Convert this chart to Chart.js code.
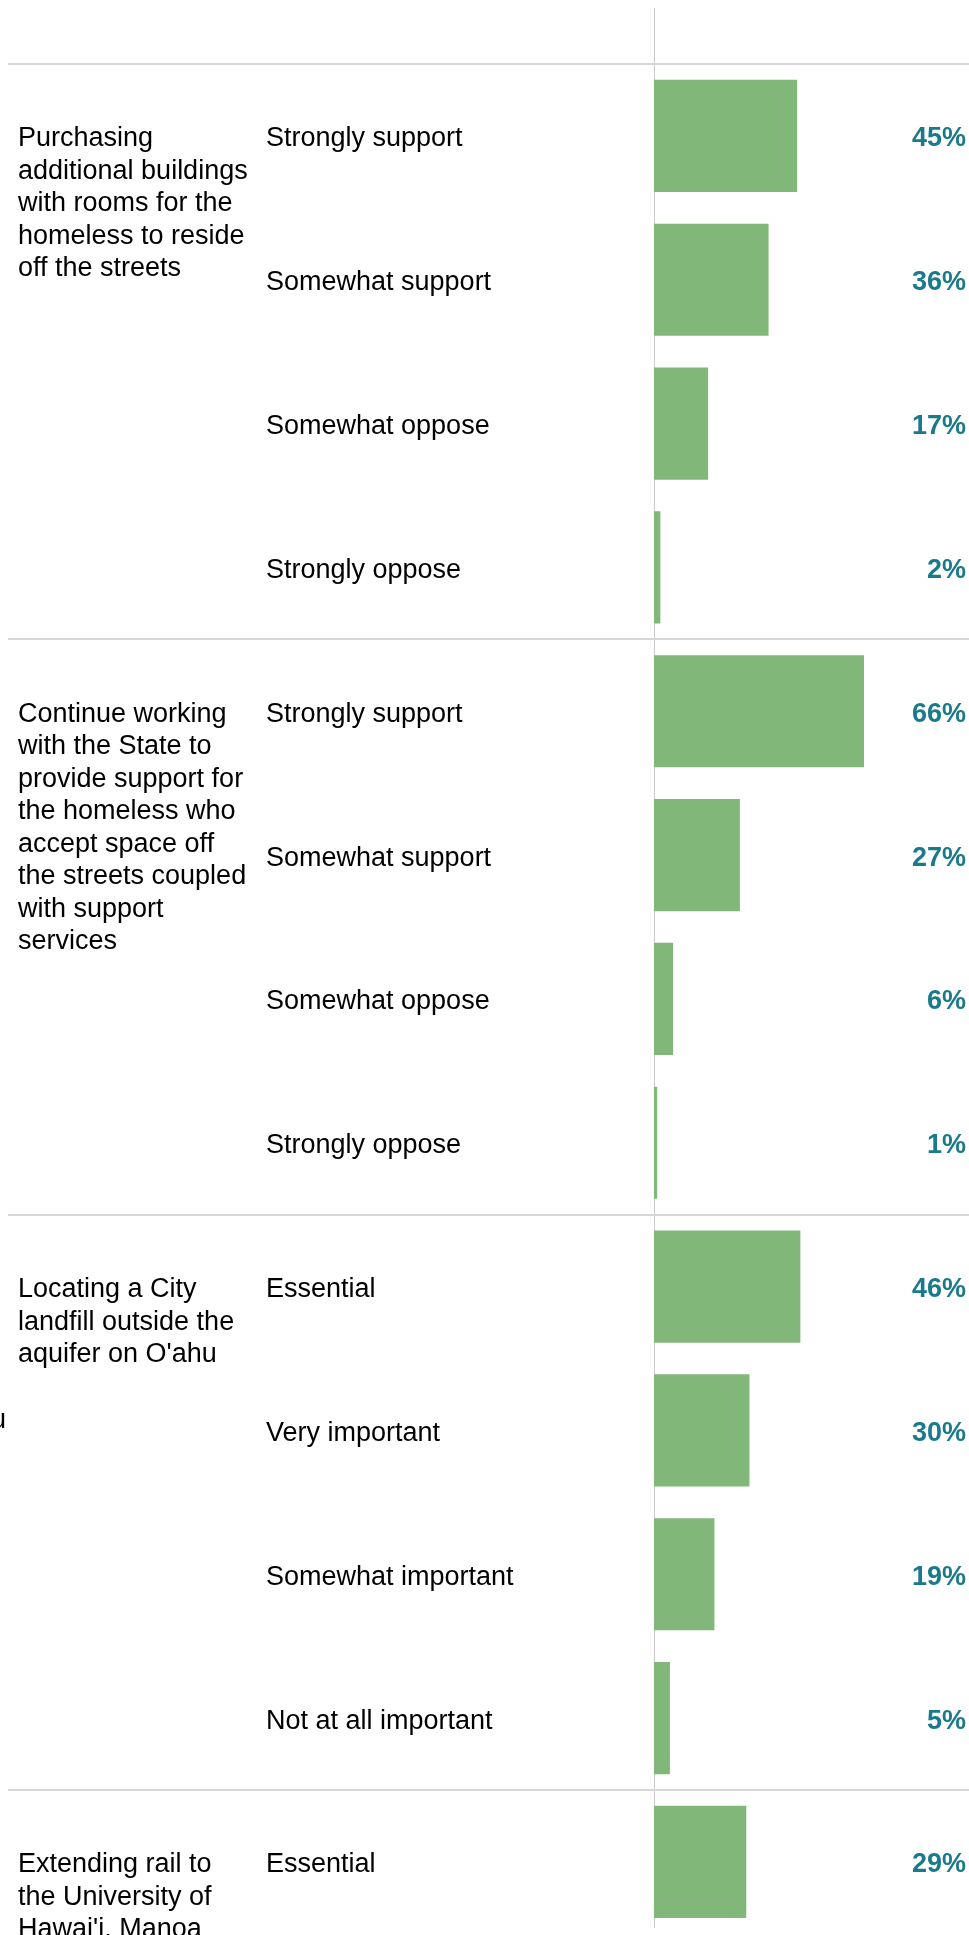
<!DOCTYPE html>
<html>
<head>
<meta charset="utf-8">
<script src="https://cdn.jsdelivr.net/npm/chart.js@4"></script>
<style>
    html, body { margin: 0; padding: 0; background: #fff; overflow: hidden; }
    #chart { display: block; }
</style>
</head>
<body>
<!-- taller than the window: the view is cut off part way into the last item -->
<canvas id="chart" width="969" height="1953"></canvas>
<script>
// Survey items, each with its answer rows
const groupLabels = [
    ['Purchasing', 'additional buildings', 'with rooms for the', 'homeless to reside', 'off the streets'],
    ['Continue working', 'with the State to', 'provide support for', 'the homeless who', 'accept space off', 'the streets coupled', 'with support', 'services'],
    ['Locating a City', 'landfill outside the', "aquifer on O'ahu"],
    ['Extending rail to', 'the University of', "Hawai'i, Manoa"]
];
const groupSizes = [4, 4, 4, 1];

const answerLabels = [
    'Strongly support', 'Somewhat support', 'Somewhat oppose', 'Strongly oppose',
    'Strongly support', 'Somewhat support', 'Somewhat oppose', 'Strongly oppose',
    'Essential', 'Very important', 'Somewhat important', 'Not at all important',
    'Essential'
];
const percentValues = [
    45, 36, 17, 2,
    66, 27, 6, 1,
    46, 30, 19, 5,
    29
];

const FONT = '"Liberation Sans", Arial, Helvetica, sans-serif';
const BAR_COLOR = '#82b77a';
const VALUE_COLOR = '#1a7a8b';
const TEXT_SHIFT = 3; // text sits a little below the row centre

// separators, axis line, item labels and the value column
const tablePlugin = {
    id: 'tableDecor',
    beforeDatasetsDraw(chart) {
        const ctx = chart.ctx;
        const y = chart.scales.y;
        const area = chart.chartArea;
        const half = (y.getPixelForValue(1) - y.getPixelForValue(0)) / 2;

        ctx.save();
        // vertical zero line
        ctx.strokeStyle = '#c8c8c8';
        ctx.lineWidth = 1;
        ctx.beginPath();
        ctx.moveTo(area.left + 0.5, 8);
        ctx.lineTo(area.left + 0.5, 1928);
        ctx.stroke();

        // horizontal lines between items
        ctx.strokeStyle = '#d6d6d6';
        ctx.lineWidth = 2;
        let start = 0;
        groupSizes.forEach(size => {
            const lineY = Math.round(y.getPixelForValue(start) - half);
            ctx.beginPath();
            ctx.moveTo(8, lineY);
            ctx.lineTo(chart.width, lineY);
            ctx.stroke();
            start += size;
        });
        ctx.restore();
    },
    afterDatasetsDraw(chart) {
        const ctx = chart.ctx;
        const y = chart.scales.y;
        ctx.save();

        // item text, first line level with the first answer
        ctx.font = '27px ' + FONT;
        ctx.fillStyle = '#000';
        ctx.textAlign = 'left';
        ctx.textBaseline = 'middle';
        let start = 0;
        groupLabels.forEach((lines, g) => {
            const top = y.getPixelForValue(start) + TEXT_SHIFT;
            lines.forEach((line, i) => {
                ctx.fillText(line, 18, top + i * 32.5);
            });
            start += groupSizes[g];
        });

        // clipped leftover glyph at the left edge
        ctx.textBaseline = 'alphabetic';
        ctx.fillText('u', -9, 1428);

        // percentages at the right
        ctx.font = 'bold 27px ' + FONT;
        ctx.fillStyle = VALUE_COLOR;
        ctx.textAlign = 'right';
        ctx.textBaseline = 'middle';
        const meta = chart.getDatasetMeta(0);
        meta.data.forEach((bar, i) => {
            ctx.fillText(percentValues[i] + '%', 966, bar.y + TEXT_SHIFT);
        });
        ctx.restore();
    }
};

const ctx = document.getElementById('chart').getContext('2d');
new Chart(ctx, {
    type: 'bar',
    data: {
        labels: answerLabels,
        datasets: [{
            data: percentValues,
            backgroundColor: BAR_COLOR,
            borderWidth: 0,
            categoryPercentage: 1,
            barPercentage: 0.78
        }]
    },
    options: {
        indexAxis: 'y',
        responsive: false,
        animation: false,
        events: [],
        layout: {
            padding: { left: 266, top: 64, right: 0, bottom: 0 }
        },
        plugins: {
            legend: { display: false },
            tooltip: { enabled: false }
        },
        scales: {
            x: {
                display: false,
                min: 0,
                max: 99
            },
            y: {
                grid: { display: false },
                border: { display: false },
                afterFit(scale) {
                    scale.width = 654 - 266;
                },
                ticks: {
                    autoSkip: false,
                    crossAlign: 'far',
                    labelOffset: TEXT_SHIFT,
                    color: '#000',
                    font: { family: FONT, size: 27 }
                }
            }
        }
    },
    plugins: [tablePlugin]
});
</script>
</body>
</html>
